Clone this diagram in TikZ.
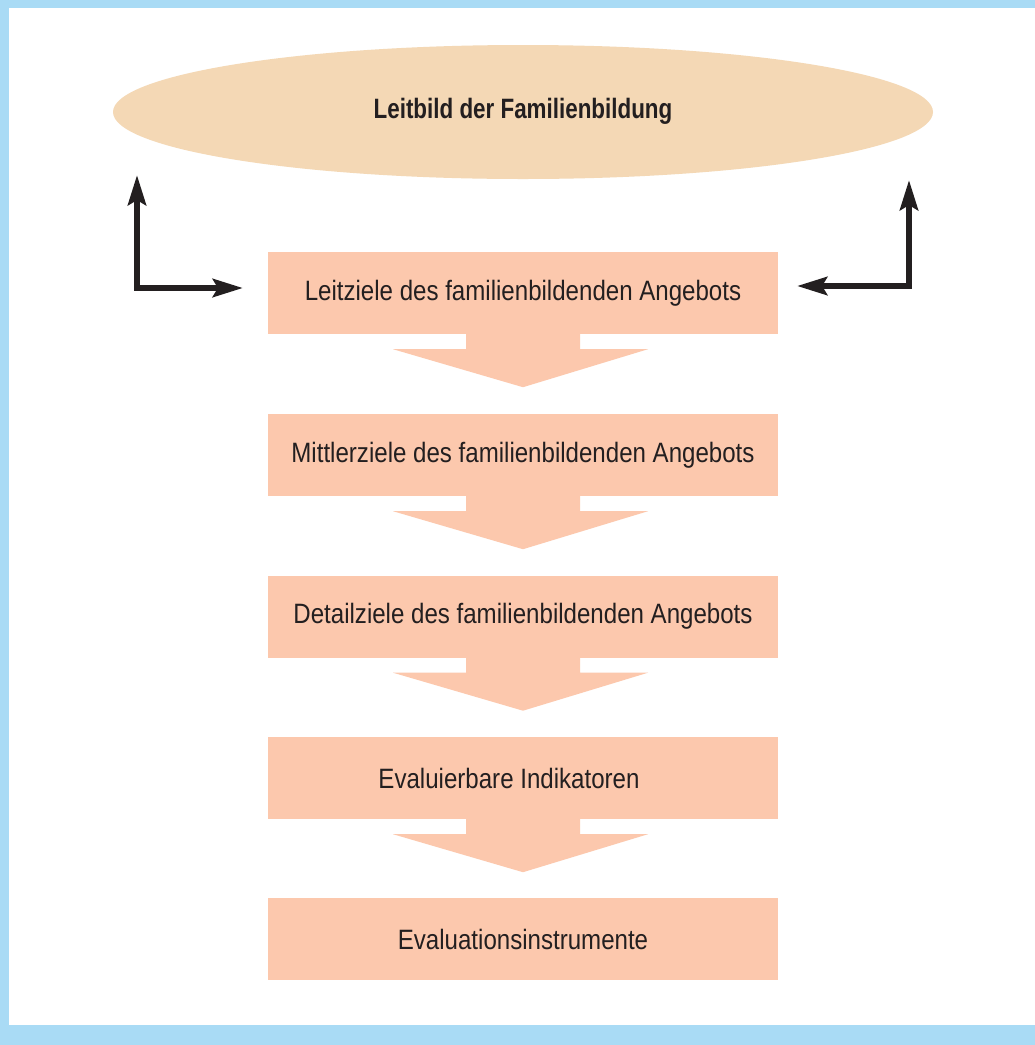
\documentclass[tikz,border=0pt]{standalone}
\usepackage{xcolor}
\usepackage{fontspec}
\setmainfont[FakeStretch=0.86,BoldFeatures={FakeStretch=0.80}]{Liberation Sans}
\usetikzlibrary{arrows.meta,shapes.geometric}

\definecolor{rahmen}{HTML}{A9DBF5}
\definecolor{leitbild}{HTML}{F4D8B5}
\definecolor{stufe}{HTML}{FCC8AD}
\definecolor{pfeil}{HTML}{231F20}

\tikzset{
	ziel/.style={rectangle,fill=stufe,minimum width=510pt,minimum height=82pt,inner sep=0pt,font=\fontsize{28}{32}\selectfont,text=pfeil},
	rueck/.style={draw=pfeil,line width=6pt,{Stealth[length=30pt,width=18pt,inset=5pt]}-{Stealth[length=30pt,width=18pt,inset=5pt]}}
}

\begin{document}
\begin{tikzpicture}[x=1pt,y=-1pt]
	% Rahmen
	\fill[rahmen] (0,0) rectangle (1035,1045);
	\fill[white] (9,8) rectangle (1035,1025);
	\useasboundingbox (0,0) rectangle (1035,1045);
	
	% Leitbild
	\node[ellipse,fill=leitbild,minimum width=820pt,minimum height=134pt,inner sep=0pt,font=\bfseries\fontsize{28}{32}\selectfont,text=pfeil] (leitbild) at (523,112) {\raisebox{7pt}{Leitbild der Familienbildung}};
	
	% Stufen
	\node[ziel] (leitziele) at (523,293) {Leitziele des familienbildenden Angebots};
	\node[ziel] (mittlerziele) at (523,455) {Mittlerziele des familienbildenden Angebots};
	\node[ziel] (detailziele) at (523,616.5) {Detailziele des familienbildenden Angebots};
	\node[ziel] (indikatoren) at (523,778) {\hspace*{-28pt}Evaluierbare Indikatoren};
	\node[ziel] (instrumente) at (523,939) {Evaluationsinstrumente};
	
	% Blockpfeile
	\foreach \s in {leitziele,mittlerziele,detailziele,indikatoren}
		\fill[stufe] (\s.south) ++(-57,0) -- ++(0,15) -- ++(-73,0) -- ++(130,38) -- ++(125,-38) -- ++(-68,0) -- ++(0,-15) -- cycle;
	
	% Rueckkopplung
	\coordinate (linksoben) at (137,175);
	\coordinate (linksein) at (243,288);
	\coordinate (rechtsoben) at (909,180);
	\coordinate (rechtsein) at (797,286);
	\draw[rueck] (linksoben) |- (linksein);
	\draw[rueck] (rechtsoben) |- (rechtsein);
\end{tikzpicture}
\end{document}
